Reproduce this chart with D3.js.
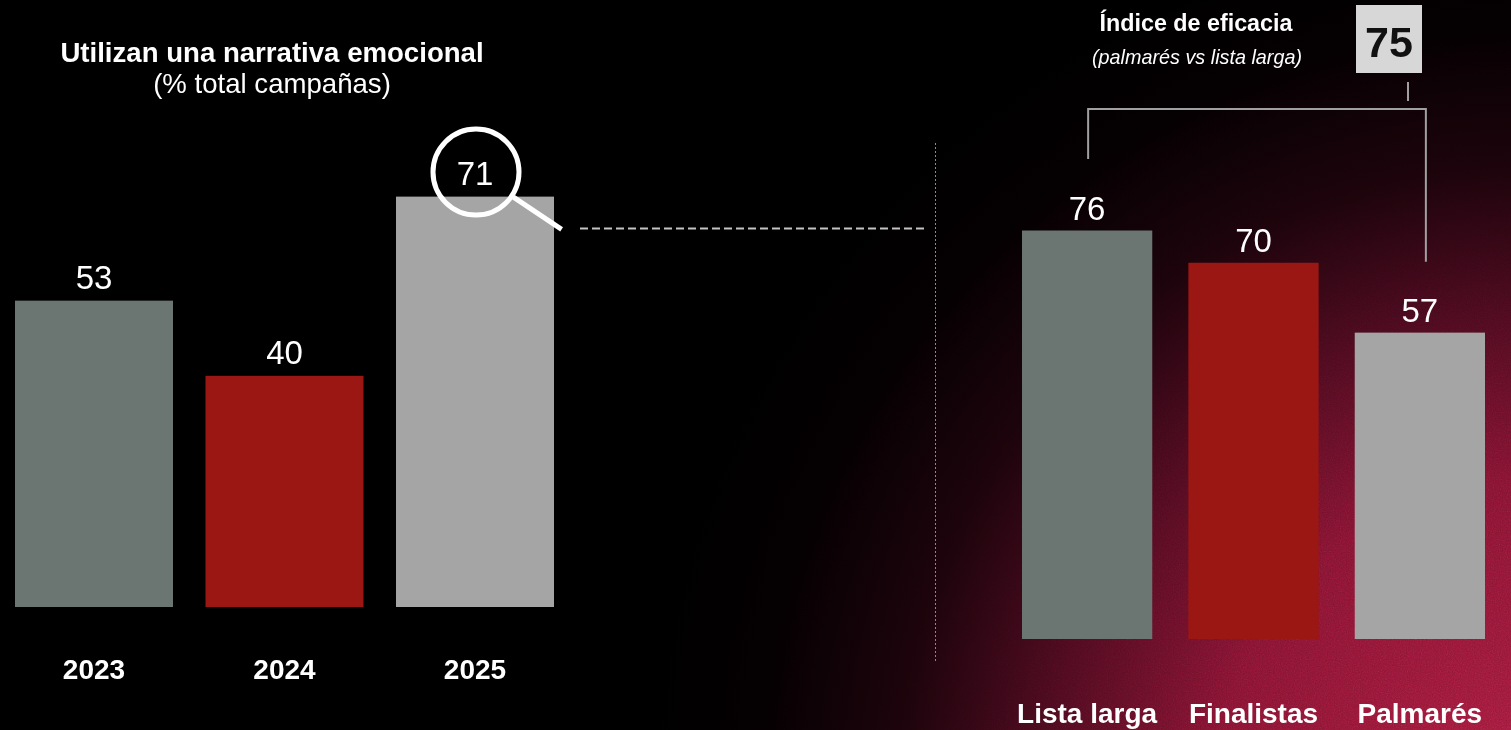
<!DOCTYPE html>
<html lang="es">
<head>
<meta charset="utf-8">
<title>Narrativa emocional</title>
<script src="https://cdn.jsdelivr.net/npm/d3@7"></script>
<style>
  html, body { margin: 0; padding: 0; background: #000; overflow: hidden; }
  svg { display: block; font-family: "Liberation Sans", Arial, Helvetica, sans-serif; }
  .grain { mix-blend-mode: overlay; }
</style>
</head>
<body>
<svg id="chart" width="1511" height="730"></svg>
<script>
// Share of campaigns using an emotional narrative, by year
const years = ["2023", "2024", "2025"];
const emotionalShare = [53, 40, 71];

// Same share split by award stage
const stages = ["Lista larga", "Finalistas", "Palmarés"];
const stageShare = [76, 70, 57];

// Efficacy index (palmarés vs lista larga)
const efficacyIndex = 75;

const barColors = ["#6b7571", "#9b1714", "#a5a5a5"];
const W = 1511, H = 730;

const svg = d3.select("#chart");
const defs = svg.append("defs");

// ---- Background: black with a crimson glow rising from the lower right ----
const glowCenter = { cx: 1530, cy: 800, r: 900 };
const glow = defs.append("radialGradient")
  .attr("id", "glow").attr("gradientUnits", "userSpaceOnUse")
  .attr("cx", glowCenter.cx).attr("cy", glowCenter.cy).attr("r", glowCenter.r);
[[0, "#a01c3c"], [0.35, "#7e1330"], [0.55, "#470a1d"], [0.7, "#1c030b"], [0.85, "#060002"], [1, "#000000"]]
  .forEach(([o, c]) => glow.append("stop").attr("offset", o).attr("stop-color", c));

const glowMask = defs.append("radialGradient")
  .attr("id", "glowMaskGrad").attr("gradientUnits", "userSpaceOnUse")
  .attr("cx", glowCenter.cx).attr("cy", glowCenter.cy).attr("r", glowCenter.r);
[[0, "#ffffff"], [0.55, "#aaaaaa"], [0.85, "#000000"]]
  .forEach(([o, c]) => glowMask.append("stop").attr("offset", o).attr("stop-color", c));
defs.append("mask").attr("id", "glowMask")
  .append("rect").attr("width", W).attr("height", H).attr("fill", "url(#glowMaskGrad)");

const grain = defs.append("filter").attr("id", "grainFilter")
  .attr("x", 0).attr("y", 0).attr("width", "100%").attr("height", "100%");
grain.append("feTurbulence").attr("type", "fractalNoise")
  .attr("baseFrequency", 0.85).attr("numOctaves", 2).attr("seed", 7).attr("stitchTiles", "stitch");
grain.append("feColorMatrix").attr("type", "saturate").attr("values", 0);

svg.append("rect").attr("width", W).attr("height", H).attr("fill", "#000");
svg.append("rect").attr("width", W).attr("height", H).attr("fill", "url(#glow)");
svg.append("rect").attr("class", "grain").attr("width", W).attr("height", H)
  .attr("filter", "url(#grainFilter)").attr("mask", "url(#glowMask)").attr("opacity", 0.7);

// ---- Left chart: yearly share ----
const xL = d3.scaleBand().domain(years).range([15, 554]).paddingInner(0.1706).paddingOuter(0);
const yL = d3.scaleLinear().domain([0, 100]).range([607, 29]);
const left = years.map((y, i) => ({ key: y, value: emotionalShare[i], color: barColors[i] }));

const gL = svg.append("g");
gL.selectAll("rect.bar").data(left).join("rect")
  .attr("class", "bar")
  .attr("x", d => xL(d.key)).attr("width", xL.bandwidth())
  .attr("y", d => yL(d.value)).attr("height", d => yL(0) - yL(d.value))
  .attr("fill", d => d.color);

gL.selectAll("text.val").data(left).join("text")
  .attr("class", "val")
  .attr("x", d => xL(d.key) + xL.bandwidth() / 2)
  .attr("y", d => yL(d.value) - 12)
  .attr("text-anchor", "middle").attr("fill", "#fff")
  .attr("font-size", 33).text(d => d.value);

gL.selectAll("text.cat").data(left).join("text")
  .attr("class", "cat")
  .attr("x", d => xL(d.key) + xL.bandwidth() / 2)
  .attr("y", 679)
  .attr("text-anchor", "middle").attr("fill", "#fff")
  .attr("font-size", 28).attr("font-weight", 700).text(d => d.key);

// Title
gL.append("text").attr("x", 272).attr("y", 62).attr("text-anchor", "middle")
  .attr("fill", "#fff").attr("font-size", 27.6).attr("font-weight", 700)
  .text("Utilizan una narrativa emocional");
gL.append("text").attr("x", 272).attr("y", 93).attr("text-anchor", "middle")
  .attr("fill", "#fff").attr("font-size", 27.6)
  .text("(% total campañas)");

// Magnifier over the latest year
const last = left[left.length - 1];
const mx = xL(last.key) + xL.bandwidth() / 2 + 1;
const my = yL(last.value) - 24.5;
const ang = Math.atan2(57.5, 86);
gL.append("circle").attr("cx", mx).attr("cy", my).attr("r", 43)
  .attr("fill", "none").attr("stroke", "#fff").attr("stroke-width", 5);
gL.append("line")
  .attr("x1", mx + 45 * Math.cos(ang)).attr("y1", my + 45 * Math.sin(ang))
  .attr("x2", mx + 103 * Math.cos(ang)).attr("y2", my + 103 * Math.sin(ang))
  .attr("stroke", "#fff").attr("stroke-width", 5);

// ---- Right chart: by award stage ----
const xR = d3.scaleBand().domain(stages).range([1022, 1485]).paddingInner(0.217).paddingOuter(0);
const yR = d3.scaleLinear().domain([0, 100]).range([639, 101.5]);
const right = stages.map((s, i) => ({ key: s, value: stageShare[i], color: barColors[i] }));

// Dashed connector and divider
svg.append("line").attr("x1", 580).attr("x2", 926)
  .attr("y1", yR(stageShare[0]) - 2).attr("y2", yR(stageShare[0]) - 2)
  .attr("stroke", "#c4c4c4").attr("stroke-width", 2).attr("stroke-dasharray", "8 4");
svg.append("line").attr("x1", 935.5).attr("x2", 935.5).attr("y1", 143).attr("y2", 663)
  .attr("stroke", "#8a8a8a").attr("stroke-width", 1).attr("stroke-dasharray", "2 2");

const gR = svg.append("g");
gR.selectAll("rect.bar").data(right).join("rect")
  .attr("class", "bar")
  .attr("x", d => xR(d.key)).attr("width", xR.bandwidth())
  .attr("y", d => yR(d.value)).attr("height", d => yR(0) - yR(d.value))
  .attr("fill", d => d.color);

gR.selectAll("text.val").data(right).join("text")
  .attr("class", "val")
  .attr("x", d => xR(d.key) + xR.bandwidth() / 2)
  .attr("y", d => yR(d.value) - 11)
  .attr("text-anchor", "middle").attr("fill", "#fff")
  .attr("font-size", 33).text(d => d.value);

gR.selectAll("text.cat").data(right).join("text")
  .attr("class", "cat")
  .attr("x", d => xR(d.key) + xR.bandwidth() / 2)
  .attr("y", 723)
  .attr("text-anchor", "middle").attr("fill", "#fff")
  .attr("font-size", 28).attr("font-weight", 700).text(d => d.key);

// Bracket comparing the first and last stage
const bx1 = xR(stages[0]) + xR.bandwidth() / 2 + 1;
const bx2 = xR(stages[2]) + xR.bandwidth() / 2 + 6;
const by = 109;
gR.append("path")
  .attr("d", `M${bx1},159 V${by} H${bx2} V${yR(stageShare[2]) - 71}`)
  .attr("fill", "none").attr("stroke", "#a0a0a0").attr("stroke-width", 2);
gR.append("line").attr("x1", 1408).attr("x2", 1408).attr("y1", 82).attr("y2", 101)
  .attr("stroke", "#a0a0a0").attr("stroke-width", 2);

// Index box
gR.append("rect").attr("x", 1356).attr("y", 5).attr("width", 66).attr("height", 68)
  .attr("fill", "#d7d7d7");
gR.append("text").attr("x", 1389).attr("y", 57).attr("text-anchor", "middle")
  .attr("fill", "#111").attr("font-size", 43).attr("font-weight", 700)
  .text(efficacyIndex);

gR.append("text").attr("x", 1196).attr("y", 31).attr("text-anchor", "middle")
  .attr("fill", "#fff").attr("font-size", 23.3).attr("font-weight", 700)
  .text("Índice de eficacia");
gR.append("text").attr("x", 1197).attr("y", 64).attr("text-anchor", "middle")
  .attr("fill", "#fff").attr("font-size", 19.8).attr("font-style", "italic")
  .text("(palmarés vs lista larga)");
</script>
</body>
</html>
